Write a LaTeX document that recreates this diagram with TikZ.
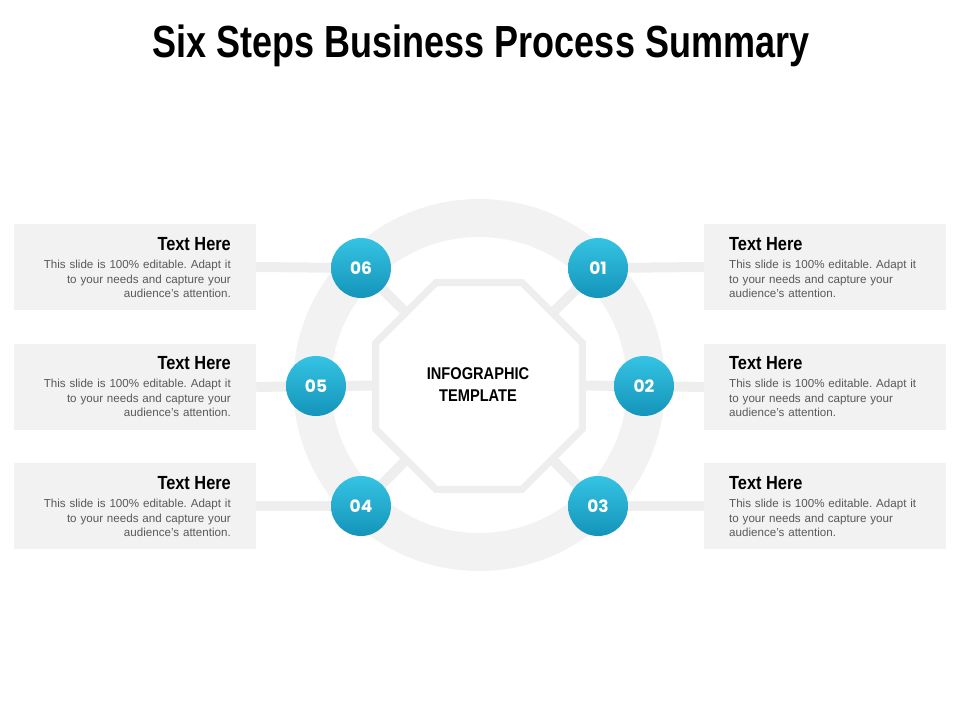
\documentclass[tikz,border=0pt]{standalone}
\usepackage{fontspec}
\setmainfont{Liberation Sans}
\newfontfamily\condfont[FakeStretch=0.86]{Liberation Sans}
\newfontfamily\titlefont[FakeStretch=0.8]{Liberation Sans}
\newfontfamily\numfont{Poppins}
\usetikzlibrary{shapes.geometric}
\definecolor{lg}{HTML}{F2F2F2}
\definecolor{lg2}{HTML}{EEEEEE}
\definecolor{btop}{HTML}{35C3E3}
\definecolor{bbot}{HTML}{1494BA}
\definecolor{bodyc}{HTML}{595959}
\tikzset{
  num/.style={circle,minimum size=60pt,inner sep=0pt,top color=btop,bottom color=bbot,text=white,font=\numfont\bfseries\fontsize{17}{17}\selectfont},
  box/.style={fill=lg,minimum width=242pt,minimum height=86pt,inner sep=0pt},
  ttl/.style={font=\condfont\bfseries\fontsize{19}{19}\selectfont,inner sep=0pt},
  body/.style={font=\frenchspacing\fontsize{11.6}{14.5}\selectfont,text=bodyc,inner sep=0pt,text width=210pt},
  bar/.style={lg2,line width=10pt},
}
\begin{document}
\begin{tikzpicture}[x=1pt,y=-1pt]
\useasboundingbox (0,0) rectangle (960,720);
\node[font=\titlefont\bfseries\fontsize{45}{45}\selectfont] (title) at (481,46) {Six Steps Business Process Summary};
\node[circle,draw=lg,line width=38pt,minimum size=334pt,inner sep=0pt] (ring) at (479,385) {};
\node[box] (b6) at (135,267) {};
\node[box] (b5) at (135,387) {};
\node[box] (b4) at (135,506) {};
\node[box] (b1) at (825,267) {};
\node[box] (b2) at (825,387) {};
\node[box] (b3) at (825,506) {};
\coordinate (c6) at (361,268);
\coordinate (c1) at (598,268);
\coordinate (c5) at (316,386);
\coordinate (c2) at (644,386);
\coordinate (c4) at (361,506);
\coordinate (c3) at (598,506);
\draw[bar] (b6.east) -- (c6); \draw[bar] (b5.east) -- (c5); \draw[bar] (b4.east) -- (c4);
\draw[bar] (b1.west) -- (c1); \draw[bar] (b2.west) -- (c2); \draw[bar] (b3.west) -- (c3);
\coordinate (o) at (479,385);
\foreach \c in {c1,c2,c3,c4,c5,c6} \draw[bar] (\c) -- (o);
\node[regular polygon,regular polygon sides=8,draw=lg2,line width=7pt,fill=white,minimum size=224pt,inner sep=0pt] (oct) at (479,386) {};
\node[font=\condfont\bfseries\fontsize{17}{22}\selectfont,align=center] (ctr) at (478,385) {INFOGRAPHIC\\TEMPLATE};
\node[num] (n6) at (c6) {06};
\node[num] (n1) at (c1) {01};
\node[num] (n5) at (c5) {05};
\node[num] (n2) at (c2) {02};
\node[num] (n4) at (c4) {04};
\node[num] (n3) at (c3) {03};
\foreach \y/\n in {244/6,363/5,483/4}{
  \node[ttl,anchor=east] (t\n) at (231,\y) {Text Here};
  \node[body,anchor=north east,align=right] (d\n) at (231,\y+16) {This slide is 100\% editable. Adapt it\\to your needs and capture your\\audience's attention.};
}
\foreach \y/\n in {244/1,363/2,483/3}{
  \node[ttl,anchor=west] (t\n) at (729,\y) {Text Here};
  \node[body,anchor=north west,align=left] (d\n) at (729,\y+16) {This slide is 100\% editable. Adapt it\\to your needs and capture your\\audience's attention.};
}
\end{tikzpicture}
\end{document}
